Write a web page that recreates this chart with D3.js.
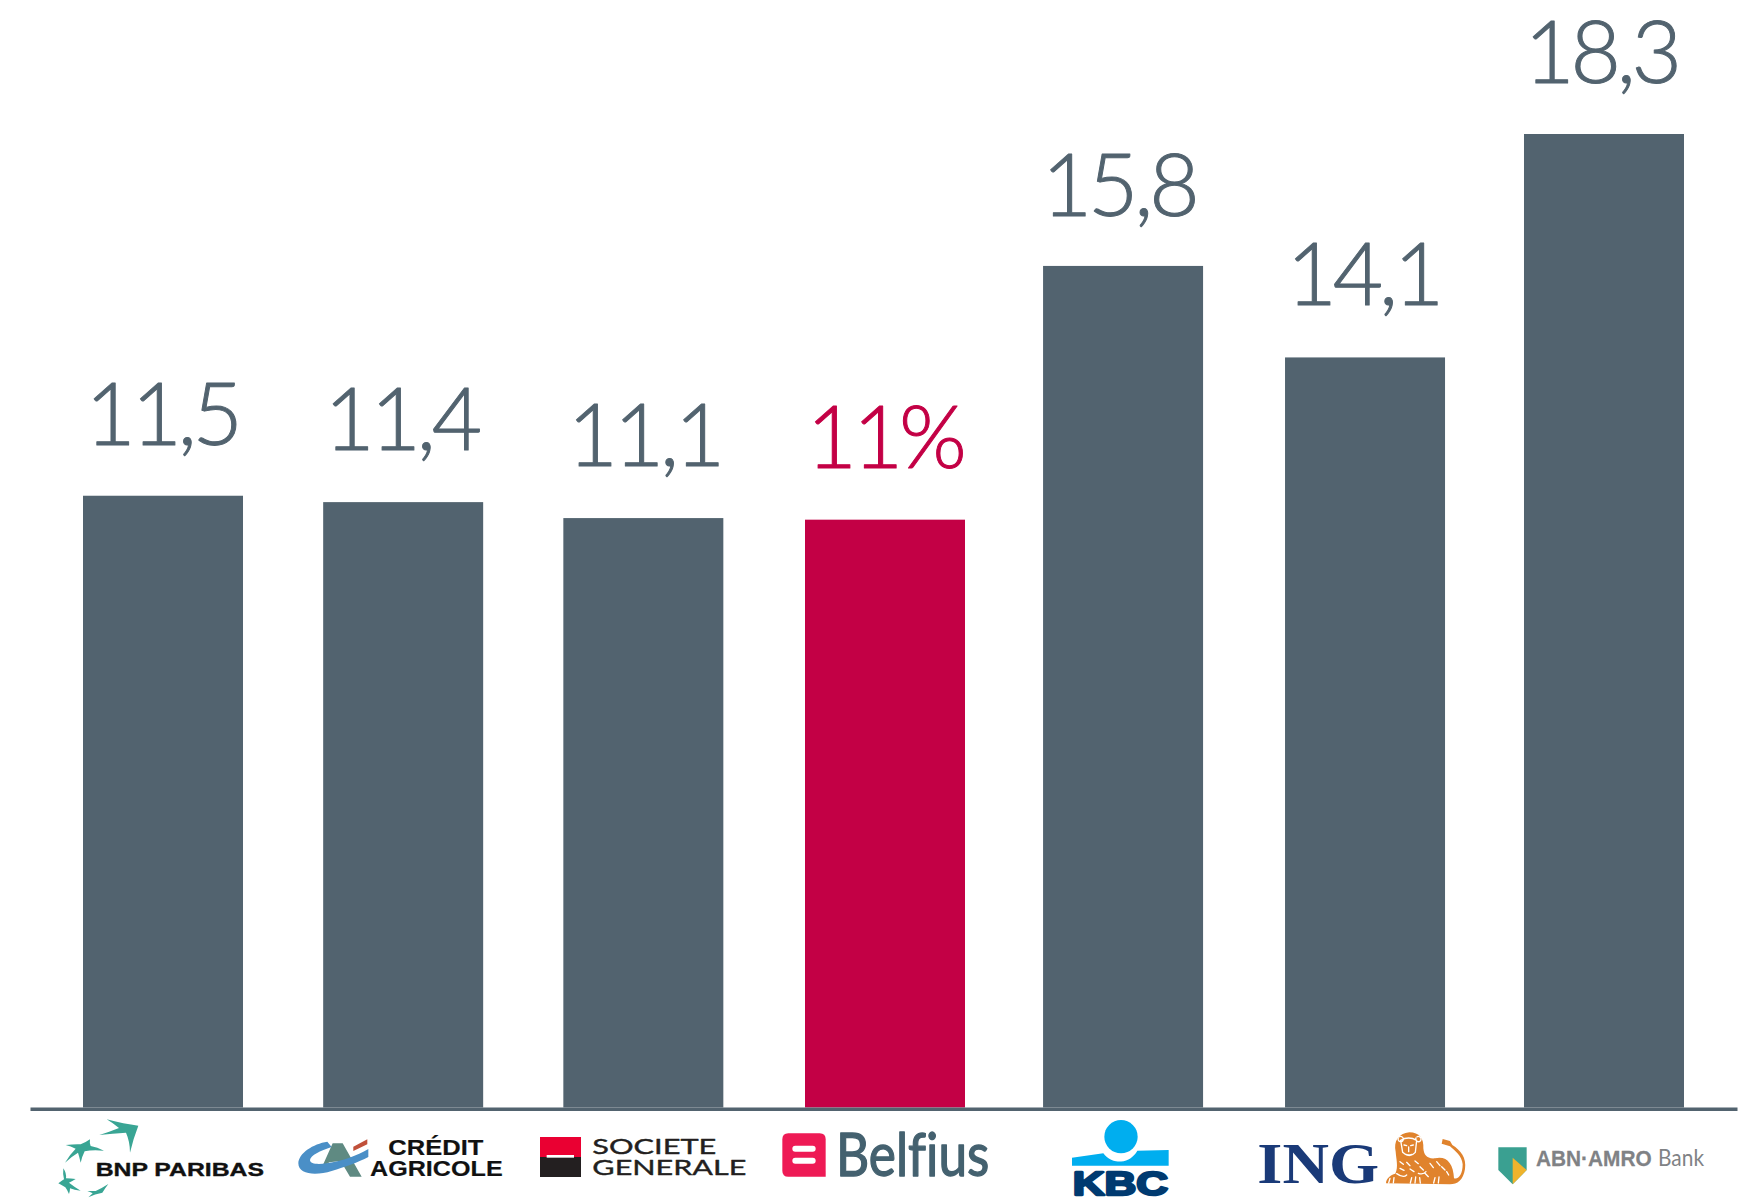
<!DOCTYPE html><html><head><meta charset="utf-8"><script src="https://cdnjs.cloudflare.com/ajax/libs/d3/7.8.5/d3.min.js"></script></head><body style="margin:0;background:#fff">
<svg id="s" width="1762" height="1204" style="display:block"></svg>
<script>
// ---- data ----
const banks = ["BNP Paribas","Crédit Agricole","Société Générale","Belfius","KBC","ING","ABN AMRO"];
const values = [11.5,11.38,11.08,11.05,15.82,14.1,18.3];
const valueLabels = ["11,5","11,4","11,1","11%","15,8","14,1","18,3"];
// ---- layout ----
const GREY="#52636f", RED="#c30045";
const barNudge=[0,0,0,1.5,-0.6,1.2,0], labelNudge=[-1,-2,1,1,-5,-0.5,-3], labelGap=[51,52,52,52,50,52,51];
const svg=d3.select("#s");
const x=d3.scaleBand().domain(banks).range([30,1737]).paddingInner(.3338).paddingOuter(.2207);
const y=d3.scaleLinear().domain([0,18.3]).range([1107.5,134]);

svg.selectAll("rect.bar").data(banks).join("rect").attr("class","bar")
  .attr("x",(d,i)=>x(d)+barNudge[i]).attr("width",x.bandwidth())
  .attr("y",(d,i)=>y(values[i])).attr("height",(d,i)=>y(0)-y(values[i]))
  .attr("fill",d=>d==="Belfius"?RED:GREY);

const axis=svg.append("g").attr("transform","translate(0,1108.8)").call(d3.axisBottom(x).tickSize(0).tickFormat(""));
axis.select(".domain").attr("stroke",GREY).attr("stroke-width",3.4);

svg.selectAll("text.val").data(banks).join("text").attr("class","val")
  .attr("x",(d,i)=>x(d)+x.bandwidth()/2+labelNudge[i])
  .attr("y",(d,i)=>y(values[i])-labelGap[i])
  .attr("text-anchor","middle").attr("font-family","Lato").attr("font-weight",300)
  .attr("font-size",87).attr("letter-spacing",-4.2)
  .attr("fill",(d,i)=>i===3?RED:GREY).attr("stroke",(d,i)=>i===3?RED:GREY)
  .attr("stroke-width",1).attr("stroke-linejoin","round")
  .text((d,i)=>valueLabels[i]);

// ---- logos: each drawn in a 3x local grid ----
function logo(ox,oy){return svg.append("g").attr("transform",`translate(${ox},${oy}) scale(${1/3})`);}
function txt(g,s,xx,yy,size,len,fam,wt,col,sw){
  const t=g.append("text").attr("x",xx).attr("y",yy).attr("font-size",size).attr("font-family",fam).attr("font-weight",wt)
    .attr("fill",col).attr("textLength",len).attr("lengthAdjust","spacingAndGlyphs").style("font-variant-ligatures","none").text(s);
  if(sw) t.attr("stroke",col).attr("stroke-width",sw).attr("stroke-linejoin","round");
  return t;
}
// BNP Paribas
{const g=logo(50,1110),c="#39a594";
 ["M170,28 Q222,42 265,47 Q250,85 240,128 Q240,95 228,68 Q188,70 148,75 Q180,65 207,54 Q190,40 170,28Z",
  "M120,88 Q118,100 122,108 Q142,112 162,122 Q128,118 104,124 Q96,140 92,158 Q88,140 84,128 Q64,140 45,158 Q58,135 77,116 Q62,108 47,105 Q75,102 92,103 Q106,98 120,88Z",
  "M40,175 Q50,190 48,205 Q62,205 77,207 Q66,214 57,218 Q75,232 92,242 Q72,240 60,235 Q60,245 57,252 Q52,240 46,232 Q36,226 25,220 Q35,212 42,208 Q38,190 40,175Z",
  "M175,222 Q165,235 157,248 Q135,252 115,262 Q122,256 128,250 Q120,246 112,243 Q125,243 137,243 Q155,235 175,222Z"]
 .forEach(p=>g.append("path").attr("d",p).attr("fill",c));
 txt(g,"BNP PARIBAS",137,199,53,505,"Liberation Sans",700,"#111",1);}
// Crédit Agricole
{const g=logo(290,1125);
 g.append("path").attr("d","M95,128 L128,55 L158,55 L215,155 L180,155 L152,108 L118,112Z").attr("fill","#5f8a82");
 g.append("path").attr("d","M190,65 L232,43 L232,58 L190,78Z").attr("fill","#c0503a");
 g.append("path").attr("d","M112,50 C70,56 25,85 25,115 C25,150 80,152 125,138 C165,126 205,112 235,96 L235,72 C200,92 160,108 110,115 C85,118 60,118 60,105 C62,90 90,78 125,66Z").attr("fill","#4a8fc7");
 txt(g,"CRÉDIT",295,91,64,285,"Liberation Sans",700,"#111",.5);
 txt(g,"AGRICOLE",240,152,64,398,"Liberation Sans",700,"#111",.5);}
// Société Générale
{const g=logo(530,1125);
 g.append("rect").attr("x",30).attr("y",36).attr("width",123).attr("height",60).attr("fill","#ea0032");
 g.append("rect").attr("x",30).attr("y",96).attr("width",123).attr("height",60).attr("fill","#231f20");
 g.append("rect").attr("x",50).attr("y",90).attr("width",82).attr("height",8).attr("fill","#fff");
 txt(g,"SOCIETE",187,88,66,372,"Lato",400,"#231f20",1.2);
 txt(g,"GENERALE",187,150,66,462,"Lato",400,"#231f20",1.2);}
// Belfius
{const g=logo(775,1125);
 g.append("path").attr("d","M40,25 H134 Q152,25 152,43 V155 H40 Q22,155 22,137 V43 Q22,25 40,25Z").attr("fill","#ee1a55");
 [62,98].forEach(t=>g.append("rect").attr("x",52).attr("y",t).attr("width",70).attr("height",18).attr("rx",9).attr("fill","#fff"));
 txt(g,"Belfius",183,154,180,460,"Lato",400,"#44616f",4);}
// KBC
{const g=logo(1060,1110),c="#00aeef";
 g.append("circle").attr("cx",183).attr("cy",80).attr("r",50).attr("fill",c);
 g.append("path").attr("d","M36,143 L130,130 A60,60 0 0 0 232,122 L326,120 L326,167 L36,167Z").attr("fill",c);
 txt(g,"KBC",38,256,98,286,"Liberation Sans",700,"#003a70",7);}
// ING
{const g=logo(1250,1125),o="#e0832d";
 txt(g,"ING",22,174,172,365,"Liberation Serif",700,"#1a3a78");
 g.append("path").attr("d","M408,175 C408,160 422,150 436,146 C446,125 438,100 437,80 C430,50 445,25 478,22 C508,22 522,42 520,70 C522,90 530,102 555,100 C590,92 610,115 612,160 C625,165 638,148 638,118 C636,92 615,78 600,64 L575,56 L578,42 L600,48 L607,60 C632,76 650,98 645,132 C640,165 622,178 600,178 Z").attr("fill",o);
 g.append("path").attr("d","M452,46 Q476,32 500,46 L496,82 Q478,102 458,82Z M447,36 A8,8 0 1 1 446,37 M500,36 A8,8 0 1 1 499,37").attr("fill","none").attr("stroke","#fff").attr("stroke-width",4);
 g.append("path").attr("d","M462,60 L470,62 M482,62 L490,60 M476,66 V80 M468,88 Q476,92 486,88 M450,110 L460,118 M470,112 L480,122 M495,108 L505,116 M450,130 L462,136 M480,132 L492,140 M510,125 L520,135 M540,115 L550,128 M560,110 L570,122 M575,125 L585,135 M420,160 L416,174 M432,158 L430,174 M485,158 L481,174 M497,156 L495,174 M509,158 L511,174 M555,158 L551,174 M567,156 L565,174 M525,145 L535,155 M590,140 L596,150 M440,146 Q460,160 470,150 M505,145 Q520,150 528,140").attr("fill","none").attr("stroke","#fff").attr("stroke-width",4).attr("stroke-linecap","round");}
// ABN AMRO
{const g=logo(1490,1135);
 g.append("path").attr("d","M25,37 H110 V105 L68,148 L25,105Z").attr("fill","#3aa091");
 g.append("path").attr("d","M68,68 L110,105 L68,148Z").attr("fill","#efb32c");
 txt(g,"ABN·AMRO",138,92,68,347,"Liberation Sans",700,"#808285",.8);
 txt(g,"Bank",504,92,70,138,"Lato",400,"#808285");}
</script></body></html>
